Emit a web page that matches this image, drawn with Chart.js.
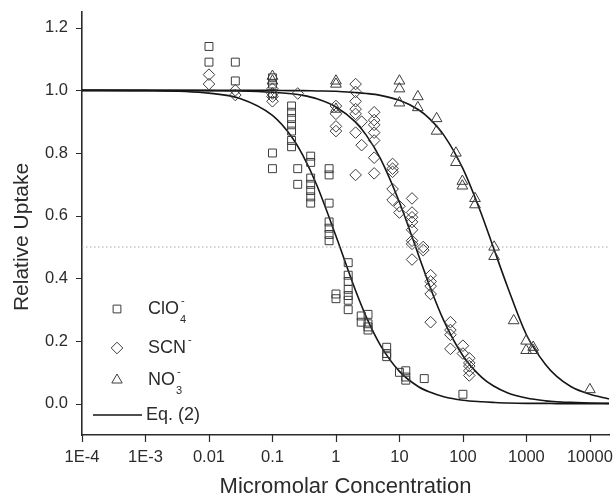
<!DOCTYPE html>
<html>
<head>
<meta charset="utf-8">
<script src="https://cdn.jsdelivr.net/npm/chart.js@4.4.1/dist/chart.umd.min.js"></script>
<style>
  html, body { margin: 0; padding: 0; background: #fff; }
</style>
</head>
<body>
<canvas id="chart" width="616" height="500"></canvas>
<script>
// Concentrations (micromolar) and relative uptake
const clo4Conc = [0.01, 0.026, 0.1, 0.2, 0.25, 0.4, 0.78, 1.0, 1.56, 2.5, 3.2, 6.3, 10, 12.6, 24.6, 100];
const clo4Uptake = [
    [1.14, 1.09], [1.09, 1.03], [1.04, 1.02, 0.99, 0.80, 0.75],
    [0.95, 0.93, 0.91, 0.89, 0.87, 0.84, 0.82], [0.75, 0.70],
    [0.79, 0.77, 0.72, 0.70, 0.68, 0.66, 0.64],
    [0.75, 0.73, 0.64, 0.58, 0.56, 0.54, 0.52], [0.35, 0.335],
    [0.45, 0.41, 0.39, 0.365, 0.345, 0.33, 0.30], [0.28, 0.26],
    [0.285, 0.255, 0.245, 0.235], [0.18, 0.16, 0.15], [0.10],
    [0.105, 0.085, 0.075], [0.08], [0.03]
];

const scnConc = [0.01, 0.026, 0.1, 0.25, 1.0, 2.04, 2.54, 4.0, 7.8, 10, 15.8, 23.7, 31, 63.5, 100, 126];
const scnUptake = [
    [1.05, 1.02], [1.00, 0.985], [1.005, 0.99, 0.98, 0.965], [0.99],
    [0.95, 0.925, 0.885, 0.87], [1.02, 0.995, 0.965, 0.94, 0.925, 0.865, 0.73],
    [0.90, 0.825], [0.93, 0.905, 0.89, 0.865, 0.84, 0.785, 0.735],
    [0.765, 0.75, 0.74, 0.685, 0.65], [0.63, 0.61],
    [0.655, 0.61, 0.595, 0.58, 0.555, 0.52, 0.51, 0.46], [0.50, 0.49],
    [0.41, 0.39, 0.375, 0.35, 0.26], [0.26, 0.235, 0.22, 0.175],
    [0.185, 0.16], [0.145, 0.13, 0.12, 0.105, 0.09]
];

const no3Conc = [0.1, 1.0, 10, 19.5, 38.5, 77.6, 98, 155, 310, 630, 990, 1280, 10000];
const no3Uptake = [
    [1.045, 1.03], [1.03, 1.02, 0.94], [1.03, 1.005, 0.96], [0.98, 0.945],
    [0.91, 0.87], [0.80, 0.77], [0.71, 0.695], [0.655, 0.635], [0.50, 0.47],
    [0.265], [0.20, 0.17], [0.18, 0.17], [0.045]
];

// Eq. (2) curves, read at these concentrations
const fitConc = [1e-4, 1e-3, 0.01, 0.03, 0.1, 0.2, 0.3, 0.5, 1, 2, 3, 5, 10, 20, 30, 50, 100, 200, 300, 500, 1000, 2000, 3000, 5000, 10000, 20000];
const clo4Fit = [1.000, 0.999, 0.991, 0.975, 0.920, 0.852, 0.793, 0.697, 0.535, 0.365, 0.277, 0.187, 0.103, 0.054, 0.037, 0.022, 0.011, 0.006, 0.004, 0.002, 0.001, 0.001, 0, 0, 0, 0];
const scnFit = [1.000, 1.000, 0.999, 0.998, 0.994, 0.989, 0.984, 0.973, 0.947, 0.900, 0.857, 0.783, 0.643, 0.474, 0.375, 0.265, 0.153, 0.083, 0.057, 0.035, 0.018, 0.009, 0.006, 0.004, 0.002, 0.001];
const no3Fit = [1.000, 1.000, 1.000, 1.000, 1.000, 0.999, 0.999, 0.998, 0.997, 0.993, 0.990, 0.984, 0.968, 0.938, 0.909, 0.857, 0.750, 0.600, 0.500, 0.375, 0.220, 0.125, 0.087, 0.055, 0.030, 0.015];

const halfConc = [1e-4, 2e4];
const halfLevel = [0.5, 0.5];

const xTickValues = [1e-4, 1e-3, 0.01, 0.1, 1, 10, 100, 1000, 10000];
const xTickLabels = ['1E-4', '1E-3', '0.01', '0.1', '1', '10', '100', '1000', '10000'];

const FONT = "'Liberation Sans', Arial, Helvetica, sans-serif";
const INK = '#2b2b2b';
const MARK = '#3c3c3c';

function toPoints(conc, groups) {
    const pts = [];
    conc.forEach((c, i) => groups[i].forEach(v => pts.push({ x: c, y: v })));
    return pts;
}
function toLine(xs, ys) {
    return xs.map((x, i) => ({ x: x, y: ys[i] }));
}
function noPadding(s) {
    s.paddingTop = s.paddingBottom = s.paddingLeft = s.paddingRight = 0;
}

// minor ticks 2..9 in every decade, 0.05 steps on y
const xAllTicks = [];
xTickValues.forEach(d => { xAllTicks.push(d); for (let m = 2; m <= 9; m++) if (d * m <= 2e4) xAllTicks.push(d * m); });
if (!xAllTicks.includes(20000)) xAllTicks.push(20000);
const yAllTicks = [];
for (let i = -2; i <= 25; i++) yAllTicks.push(Math.round(i * 5) / 100);
const isMajorY = v => Math.abs(v * 5 - Math.round(v * 5)) < 1e-6 && v >= 0;

const markerStyle = (style, r) => ({
    showLine: false, pointStyle: style, pointRadius: r, pointHoverRadius: r,
    pointBorderColor: MARK, pointBackgroundColor: 'rgba(0,0,0,0)', pointBorderWidth: 1
});
const curveStyle = {
    showLine: true, pointRadius: 0, borderColor: '#151515', borderWidth: 1.6,
    cubicInterpolationMode: 'monotone', fill: false
};

// tick marks: long for labelled values, short for minor ones
const axisTicks = {
    id: 'axisTicks',
    afterDraw(chart) {
        const ctx = chart.ctx, xs = chart.scales.x, ys = chart.scales.y;
        ctx.save();
        ctx.strokeStyle = INK;
        ctx.lineWidth = 1.2;
        ctx.beginPath();
        xs.ticks.forEach(t => {
            const px = Math.round(xs.getPixelForValue(t.value)) + 0.5;
            const len = xTickValues.includes(t.value) ? 7 : 4;
            ctx.moveTo(px, xs.top); ctx.lineTo(px, xs.top + len);
        });
        ys.ticks.forEach(t => {
            const py = Math.round(ys.getPixelForValue(t.value)) + 0.5;
            const len = isMajorY(t.value) ? 6 : 4;
            ctx.moveTo(ys.right, py); ctx.lineTo(ys.right - len, py);
        });
        ctx.stroke();

        // y axis title
        ctx.fillStyle = INK;
        ctx.font = '21px ' + FONT;
        ctx.textAlign = 'center';
        ctx.textBaseline = 'middle';
        ctx.translate(22, 237);
        ctx.rotate(-Math.PI / 2);
        ctx.fillText('Relative Uptake', 0, 0);
        ctx.restore();
    }
};

// legend inside the plot, with sub/superscripts
const ionLegend = {
    id: 'ionLegend',
    afterDatasetsDraw(chart) {
        const ctx = chart.ctx;
        const mx = 117, tx = 148;
        const rows = [
            { style: 'rect', r: 5.5, y: 309, main: 'ClO', sub: '4', sup: '-' },
            { style: 'rectRot', r: 5.8, y: 348, main: 'SCN', sub: '', sup: '-' },
            { style: 'triangle', r: 6, y: 380, main: 'NO', sub: '3', sup: '-' }
        ];
        ctx.save();
        ctx.textBaseline = 'middle';
        ctx.textAlign = 'left';
        rows.forEach(row => {
            ctx.strokeStyle = MARK;
            ctx.fillStyle = 'rgba(0,0,0,0)';
            ctx.lineWidth = 1;
            Chart.helpers.drawPoint(ctx, { pointStyle: row.style, radius: row.r, borderWidth: 1 }, mx, row.y);
            ctx.fillStyle = INK;
            ctx.font = '18px ' + FONT;
            ctx.fillText(row.main, tx, row.y);
            const w = ctx.measureText(row.main).width;
            ctx.font = '11px ' + FONT;
            if (row.sub) ctx.fillText(row.sub, tx + w + 1, row.y + 11);
            ctx.fillText(row.sup, tx + w + 2, row.y - 8);
        });
        ctx.strokeStyle = '#151515';
        ctx.lineWidth = 1.6;
        ctx.beginPath();
        ctx.moveTo(93, 415); ctx.lineTo(142, 415);
        ctx.stroke();
        ctx.fillStyle = INK;
        ctx.font = '18px ' + FONT;
        ctx.fillText('Eq. (2)', 146, 415);
        ctx.restore();
    }
};

new Chart(document.getElementById('chart'), {
    type: 'scatter',
    data: {
        datasets: [
            { label: 'half', data: toLine(halfConc, halfLevel), showLine: true, pointRadius: 0,
              borderColor: '#a8a8a8', borderWidth: 1, borderDash: [1.5, 2.5] },
            { label: 'ClO4-', data: toPoints(clo4Conc, clo4Uptake), ...markerStyle('rect', 5.6) },
            { label: 'SCN-', data: toPoints(scnConc, scnUptake), ...markerStyle('rectRot', 5.8) },
            { label: 'NO3-', data: toPoints(no3Conc, no3Uptake), ...markerStyle('triangle', 6.2) },
            { label: 'fit ClO4', data: toLine(fitConc, clo4Fit), ...curveStyle },
            { label: 'fit SCN', data: toLine(fitConc, scnFit), ...curveStyle },
            { label: 'fit NO3', data: toLine(fitConc, no3Fit), ...curveStyle }
        ]
    },
    options: {
        responsive: false,
        animation: false,
        clip: false,
        layout: { autoPadding: false, padding: { top: 12, right: 7, left: 0, bottom: 0 } },
        plugins: { legend: { display: false }, tooltip: { enabled: false } },
        scales: {
            x: {
                type: 'logarithmic',
                min: 1e-4,
                max: 2e4,
                afterBuildTicks: s => { s.ticks = xAllTicks.map(v => ({ value: v })); },
                afterFit: s => { s.height = 65; noPadding(s); },
                grid: { display: true, drawOnChartArea: false, drawTicks: false },
                border: { display: true, color: INK, width: 1.6 },
                ticks: {
                    autoSkip: false, maxRotation: 0, padding: 13, color: INK,
                    font: { family: FONT, size: 16.5 },
                    callback: v => { const i = xTickValues.indexOf(v); return i >= 0 ? xTickLabels[i] : null; }
                },
                title: { display: true, text: 'Micromolar Concentration', color: INK,
                         font: { family: FONT, size: 22 }, padding: { top: 0, bottom: 0 } }
            },
            y: {
                min: -0.1,
                max: 1.25,
                afterBuildTicks: s => { s.ticks = yAllTicks.map(v => ({ value: v })); },
                afterFit: s => { s.width = 82; noPadding(s); },
                grid: { display: true, drawOnChartArea: false, drawTicks: false },
                border: { display: true, color: INK, width: 1.6 },
                ticks: {
                    autoSkip: false, padding: 14, color: INK,
                    font: { family: FONT, size: 16.5 },
                    callback: v => isMajorY(v) ? v.toFixed(1) : null
                }
            }
        }
    },
    plugins: [axisTicks, ionLegend]
});
</script>
</body>
</html>
